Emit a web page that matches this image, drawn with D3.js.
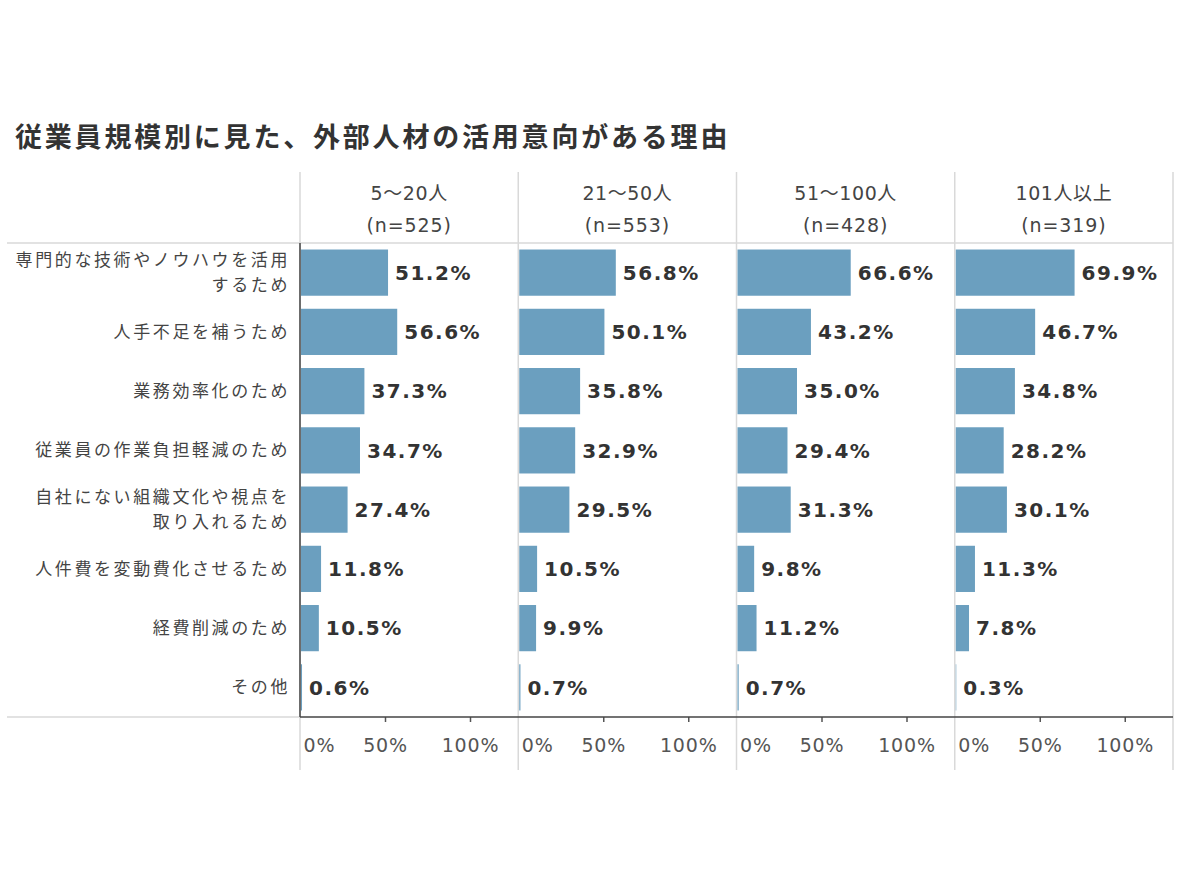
<!DOCTYPE html>
<html>
<head>
<meta charset="utf-8">
<script src="https://cdn.jsdelivr.net/npm/d3@7"></script>
<style>
  body { margin: 0; background: #fff; }
  svg { display: block; }
</style>
</head>
<body>
<svg id="chart" width="1200" height="877"></svg>
<script>
// DATA
const reasons = [
  ['専門的な技術やノウハウを活用', 'するため'],
  ['人手不足を補うため'],
  ['業務効率化のため'],
  ['従業員の作業負担軽減のため'],
  ['自社にない組織文化や視点を', '取り入れるため'],
  ['人件費を変動費化させるため'],
  ['経費削減のため'],
  ['その他']
];
const groups = ['5～20人', '21～50人', '51～100人', '101人以上'];
const groupN = ['(n=525)', '(n=553)', '(n=428)', '(n=319)'];
const values5to20 = [51.2, 56.6, 37.3, 34.7, 27.4, 11.8, 10.5, 0.6];
const values21to50 = [56.8, 50.1, 35.8, 32.9, 29.5, 10.5, 9.9, 0.7];
const values51to100 = [66.6, 43.2, 35.0, 29.4, 31.3, 9.8, 11.2, 0.7];
const values101plus = [69.9, 46.7, 34.8, 28.2, 30.1, 11.3, 7.8, 0.3];
const seriesValues = [values5to20, values21to50, values51to100, values101plus];
const tickValues = [0, 50, 100];

// SETUP
const svg = d3.select('#chart'),
  plotLeft = 300,
  plotRight = 1173,
  plotTop = 243,
  plotBottom = 717,
  headTop = 172,
  gridBottom = 770,
  jpFont = "'Noto Sans CJK JP', sans-serif",
  numFont = "'DejaVu Sans', 'Noto Sans CJK JP', sans-serif";

const rowIdx = d3.range(reasons.length);
const y = d3.scaleBand().domain(rowIdx).range([plotTop, plotBottom])
  .paddingInner(0.22).paddingOuter(0.11);
const rowY = d3.scaleBand().domain(rowIdx).range([plotTop, plotBottom]);
const panel = d3.scaleBand().domain(groups).range([plotLeft, plotRight]);
const x = d3.scaleLinear().domain([0, 100]).range([0, 170]);

// TITLE
svg.append('text')
  .attr('x', 15)
  .attr('y', 147)
  .style('font-family', jpFont)
  .style('font-weight', 700)
  .style('font-size', '27px')
  .style('letter-spacing', '2.8px')
  .style('fill', '#333')
  .text('従業員規模別に見た、外部人材の活用意向がある理由');

// GRID LINES
const grid = svg.append('g');
grid.append('line')
  .attr('x1', 7).attr('x2', plotRight)
  .attr('y1', plotTop).attr('y2', plotTop)
  .attr('stroke', '#d9d9d9').attr('stroke-width', 1.5);
grid.append('line')
  .attr('x1', 7).attr('x2', plotLeft)
  .attr('y1', plotBottom).attr('y2', plotBottom)
  .attr('stroke', '#d9d9d9').attr('stroke-width', 1.5);
grid.selectAll('.vline')
  .data(groups.concat(['end']))
  .enter()
  .append('line')
  .attr('class', 'vline')
  .attr('x1', d => d === 'end' ? plotRight : panel(d))
  .attr('x2', d => d === 'end' ? plotRight : panel(d))
  .attr('y1', headTop).attr('y2', gridBottom)
  .attr('stroke', '#d9d9d9').attr('stroke-width', 1.5);

// ROW LABELS
const labels = svg.append('g')
  .style('font-family', jpFont)
  .style('font-size', '17px')
  .style('letter-spacing', '2.6px')
  .style('fill', '#444');
reasons.forEach(function (lines, i) {
  const cy = rowY(i) + rowY.bandwidth() / 2;
  const t = labels.append('text')
    .attr('text-anchor', 'end')
    .attr('x', 290)
    .attr('y', cy - (lines.length - 1) * 12.2);
  lines.forEach(function (l, j) {
    t.append('tspan')
      .attr('x', 290)
      .attr('dy', j === 0 ? '0.35em' : '24.5px')
      .text(l);
  });
});

// PANELS
groups.forEach(function (grp, gi) {
  const g = svg.append('g')
    .attr('transform', 'translate(' + panel(grp) + ',0)');
  const cx = panel.bandwidth() / 2;

  // HEADER
  g.append('text')
    .attr('x', cx).attr('y', 193).attr('dy', '0.35em')
    .attr('text-anchor', 'middle')
    .style('font-family', numFont)
    .style('font-size', '19px')
    .style('letter-spacing', '0.6px')
    .style('fill', '#444')
    .text(grp);
  g.append('text')
    .attr('x', cx).attr('y', 225).attr('dy', '0.35em')
    .attr('text-anchor', 'middle')
    .style('font-family', numFont)
    .style('font-size', '19px')
    .style('letter-spacing', '0.9px')
    .style('fill', '#444')
    .text(groupN[gi]);

  const vals = seriesValues[gi];

  // BARS
  g.selectAll('.bar')
    .data(vals)
    .enter()
    .append('rect')
    .attr('class', 'bar')
    .attr('x', 1)
    .attr('y', (d, i) => y(i))
    .attr('width', d => x(d))
    .attr('height', y.bandwidth())
    .style('fill', '#6b9fbf');

  // VALUE LABELS
  g.selectAll('.val')
    .data(vals)
    .enter()
    .append('text')
    .attr('class', 'val')
    .attr('x', d => x(d) + 8)
    .attr('y', (d, i) => rowY(i) + rowY.bandwidth() / 2)
    .attr('dy', '0.36em')
    .style('font-family', numFont)
    .style('font-weight', 700)
    .style('font-size', '20px')
    .style('letter-spacing', '1.5px')
    .style('fill', '#333')
    .text(d => d3.format('.1f')(d) + '%');

  // X AXIS
  const axis = g.append('g')
    .attr('transform', 'translate(0,' + plotBottom + ')')
    .call(d3.axisBottom(x).tickValues(tickValues).tickSizeInner(5).tickSizeOuter(0)
      .tickFormat(d => d + '%'));
  axis.select('.domain').remove();
  axis.selectAll('.tick line').attr('stroke', '#555').attr('stroke-width', 1.5)
    .filter(d => d === 0).remove();
  axis.selectAll('.tick text')
    .attr('y', 28)
    .attr('dy', '0.35em')
    .style('font-family', numFont)
    .style('font-size', '19px')
    .style('letter-spacing', '0.8px')
    .style('fill', '#555')
    .filter(d => d === 0)
    .attr('text-anchor', 'start')
    .attr('x', 3);
});

// AXIS LINES
svg.append('line')
  .attr('x1', plotLeft).attr('x2', plotRight)
  .attr('y1', plotBottom).attr('y2', plotBottom)
  .attr('stroke', '#444').attr('stroke-width', 1.5);
svg.append('line')
  .attr('x1', plotLeft).attr('x2', plotLeft)
  .attr('y1', plotTop).attr('y2', plotBottom)
  .attr('stroke', '#444').attr('stroke-width', 1.5);
</script>
</body>
</html>
